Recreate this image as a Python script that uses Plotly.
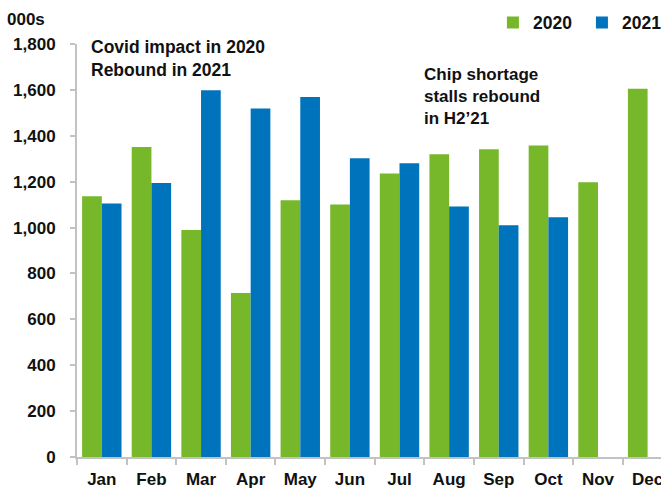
import plotly.graph_objects as go

months = ["Jan", "Feb", "Mar", "Apr", "May", "Jun", "Jul", "Aug", "Sep", "Oct", "Nov", "Dec"]
sales_2020 = [1136, 1351, 989, 715, 1119, 1101, 1236, 1319, 1341, 1358, 1198, 1605]
sales_2021 = [1105, 1194, 1598, 1519, 1569, 1302, 1280, 1092, 1010, 1045, None, None]
y_ticks = [0, 200, 400, 600, 800, 1000, 1200, 1400, 1600, 1800]
y_tick_text = ["0", "200", "400", "600", "800", "1,000", "1,200", "1,400", "1,600", "1,800"]

GREEN = "#77B82B"
BLUE = "#0073BD"
FONT = "Liberation Sans"
TXT = "#111111"
AX = "#c2c2c2"

fig = go.Figure()
fig.add_trace(go.Bar(x=months, y=sales_2020, name="2020", marker=dict(color=GREEN, line=dict(width=0))))
fig.add_trace(go.Bar(x=months, y=sales_2021, name="2021", marker=dict(color=BLUE, line=dict(width=0))))

fig.update_layout(
    width=661, height=490,
    margin=dict(l=77, r=0, t=44, b=33, autoexpand=False),
    plot_bgcolor="white", paper_bgcolor="white",
    barmode="group", bargap=0.206, bargroupgap=0,
    font=dict(family=FONT, size=17, color=TXT, weight="bold"),
    showlegend=True,
    legend=dict(orientation="h", x=1.017, xanchor="right", y=1.052, yanchor="middle",
                entrywidth=44, entrywidthmode="pixels",
                font=dict(family=FONT, size=17.5, color=TXT, weight="bold"),
                bgcolor="rgba(0,0,0,0)", itemclick=False, traceorder="normal"),
    xaxis=dict(
        range=[-0.5, 11.27], showgrid=False, zeroline=False,
        showline=True, linecolor=AX, linewidth=2,
        ticks="outside", tickson="boundaries", ticklen=6, tickwidth=2, tickcolor=AX,
        tickfont=dict(family=FONT, size=17, color=TXT, weight="bold"),
        ticklabelstandoff=6,
    ),
    yaxis=dict(
        range=[0, 1800], showgrid=False, zeroline=False,
        showline=True, linecolor=AX, linewidth=2,
        ticks="outside", ticklen=5, tickwidth=2, tickcolor=AX,
        tickvals=y_ticks, ticktext=y_tick_text,
        tickfont=dict(family=FONT, size=17, color=TXT, weight="bold"),
        ticklabelstandoff=11,
    ),
)

fig.add_annotation(text="000s", xref="paper", yref="paper", x=-0.123, y=1.06,
                   xanchor="left", yanchor="middle", showarrow=False,
                   font=dict(family=FONT, size=17, color=TXT, weight="bold"))
fig.add_annotation(text="Covid impact in 2020<br>Rebound in 2021", xref="paper", yref="paper",
                   x=0.021, y=1.021, xanchor="left", yanchor="top", align="left", showarrow=False,
                   font=dict(family=FONT, size=17.5, color=TXT, weight="bold"))
fig.add_annotation(text="Chip shortage<br>stalls rebound<br>in H2\u201921", xref="paper", yref="paper",
                   x=0.591, y=0.953, xanchor="left", yanchor="top", align="left", showarrow=False,
                   font=dict(family=FONT, size=17, color=TXT, weight="bold"))

fig.write_html("out.html")
